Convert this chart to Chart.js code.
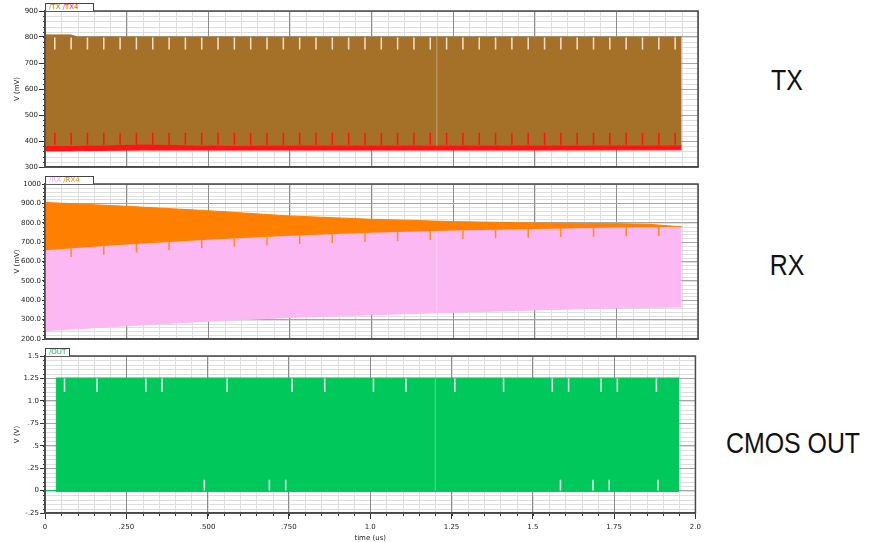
<!DOCTYPE html>
<html>
<head>
<meta charset="utf-8">
<script src="https://cdn.jsdelivr.net/npm/chart.js@4.4.0/dist/chart.umd.min.js"></script>
<style>
body{margin:0;background:#fff;width:879px;height:542px;position:relative;overflow:hidden;font-family:'DejaVu Sans',sans-serif}
canvas{position:absolute;left:0}
.tab{position:absolute;left:45px;height:7px;border:1px solid #444;border-bottom:none;background:#fff;font-size:7px;line-height:7px;padding:0 3px;white-space:nowrap}
.side{position:absolute;font-family:'Liberation Sans',Arial,sans-serif;font-size:30px;color:#111;transform:translate(-50%,-50%) scaleX(0.83);white-space:nowrap}
</style>
</head>
<body>
<canvas id="txChart" width="705" height="174" style="top:0"></canvas>
<canvas id="rxChart" width="705" height="172" style="top:174px"></canvas>
<canvas id="outChart" width="705" height="196" style="top:346px"></canvas>

<div class="tab" style="top:3px;width:41px"><span style="color:#a57128">/TX</span> <span style="color:#ff2020">/TX4</span></div>
<div class="tab" style="top:176px;width:41px"><span style="color:#f7a8ee">/RX</span> <span style="color:#ff8000">/RX4</span></div>
<div class="tab" style="top:348px;width:17px"><span style="color:#00c060">/OUT</span></div>

<div class="side" style="left:787px;top:80px">TX</div>
<div class="side" style="left:787px;top:265px">RX</div>
<div class="side" style="left:793px;top:443px">CMOS OUT</div>

<script>
// 공통 축 눈금
const xTickLabels = ['0', '.250', '.500', '.750', '1.0', '1.25', '1.5', '1.75', '2.0'];
const txTickLabels = ['300', '400', '500', '600', '700', '800', '900'];
const rxTickLabels = ['200.0', '300.0', '400.0', '500.0', '600.0', '700.0', '800.0', '900.0', '1000'];
const outTickLabels = ['-.25', '0', '.25', '.5', '.75', '1.0', '1.25', '1.5'];

// TX 포락선 (mV)
const txTime   = [0, 0.08, 0.1, 0.3, 0.55, 0.75, 1.0, 1.5, 1.95];
const txTop    = [808, 808, 800, 800, 800, 800, 800, 800, 800];
const txMid    = [381, 381, 382, 387, 382, 383, 383, 383, 383];
const txLow    = [362, 362, 363, 365, 365, 365, 365, 365, 366];
const txPulseTime = [0.03, 0.08, 0.13, 0.18, 0.23, 0.28, 0.33, 0.38, 0.43, 0.48, 0.53, 0.58, 0.63,
    0.68, 0.73, 0.78, 0.83, 0.88, 0.93, 0.98, 1.03, 1.08, 1.13, 1.18, 1.23, 1.28, 1.33, 1.38,
    1.43, 1.48, 1.53, 1.58, 1.63, 1.68, 1.73, 1.78, 1.83, 1.88, 1.93];

// RX 포락선 (mV)
const rxTime  = [0, 0.25, 0.5, 0.75, 1.0, 1.25, 1.5, 1.75, 1.85, 1.95];
const rx4Top  = [905, 885, 862, 835, 818, 806, 799, 795, 792, 779];
const rxTop   = [658, 688, 712, 733, 748, 760, 768, 775, 777, 778];
const rxLow   = [243, 268, 292, 311, 325, 338, 350, 360, 363, 365];
const rxSpikeTime = [0.08, 0.18, 0.28, 0.38, 0.48, 0.58, 0.68, 0.78, 0.88, 0.98, 1.08, 1.18,
    1.28, 1.38, 1.48, 1.58, 1.68, 1.78, 1.88];
const rxSpikeTop = [668, 680, 692, 703, 713, 722, 729, 735, 741, 746, 751, 756, 761, 765, 768, 771, 773, 775, 777];
const rxSpikeLow = [623, 635, 647, 658, 668, 677, 684, 690, 696, 701, 706, 711, 716, 720, 723, 726, 728, 730, 732];

// CMOS OUT 포락선 (V)
const outTime = [0, 0.034, 0.035, 1.95];
const outTop  = [0, 0, 1.255, 1.255];
const outLow  = [0, 0, -0.01, -0.01];
const outTopGapTime = [0.06, 0.16, 0.31, 0.36, 0.56, 0.76, 0.86, 1.01, 1.11, 1.26, 1.41, 1.56, 1.61, 1.71, 1.76, 1.88];
const outLowGapTime = [0.49, 0.69, 0.74, 1.585, 1.685, 1.735, 1.885];

const cursorTime = 1.2;

function pts(xs, ys) {
    return xs.map((x, i) => ({ x: x, y: ys[i] }));
}

// 세로 스파이크: 각 시점마다 선분 하나, null로 끊기
function spikePts(xs, lo, hi) {
    const out = [];
    xs.forEach((x, i) => {
        const a = Array.isArray(lo) ? lo[i] : lo;
        const b = Array.isArray(hi) ? hi[i] : hi;
        out.push({ x: x, y: a }, { x: x, y: b }, { x: x, y: null });
    });
    return out;
}

function band(data, color, fill) {
    return { data: data, borderColor: color, backgroundColor: color, borderWidth: 1, fill: fill, order: 0 };
}

function spike(data, color, width) {
    return { data: data, borderColor: color, borderWidth: width || 1.5, fill: false, spanGaps: false, order: -1 };
}

// 보조 격자 + 외곽 프레임
const minorGrid = {
    id: 'minorGrid',
    beforeDraw(chart, args, opts) {
        const { ctx, chartArea: a, scales: { x, y } } = chart;
        ctx.save();
        ctx.strokeStyle = '#dedede';
        ctx.lineWidth = 1;
        ctx.beginPath();
        for (let v = x.min; v <= x.max + 1e-9; v += 0.05) {
            const px = Math.round(x.getPixelForValue(v)) + 0.5;
            ctx.moveTo(px, a.top); ctx.lineTo(px, a.bottom);
        }
        for (let v = y.min; v <= y.max + 1e-9; v += opts.yStep) {
            const py = Math.round(y.getPixelForValue(v)) + 0.5;
            ctx.moveTo(a.left, py); ctx.lineTo(a.right, py);
        }
        ctx.stroke();
        // 작은 눈금
        ctx.strokeStyle = '#333';
        ctx.beginPath();
        for (let v = y.min; v <= y.max + 1e-9; v += opts.yStep) {
            const py = Math.round(y.getPixelForValue(v)) + 0.5;
            ctx.moveTo(a.left - 2, py); ctx.lineTo(a.left, py);
        }
        if (opts.xTicks) {
            for (let v = x.min; v <= x.max + 1e-9; v += 0.05) {
                const px = Math.round(x.getPixelForValue(v)) + 0.5;
                ctx.moveTo(px, a.bottom); ctx.lineTo(px, a.bottom + 3);
            }
        }
        ctx.stroke();
        ctx.restore();
    },
    afterDraw(chart) {
        const { ctx, chartArea: a } = chart;
        ctx.save();
        ctx.strokeStyle = '#4a4a4a';
        ctx.lineWidth = 1.5;
        ctx.strokeRect(a.left, a.top, a.right - a.left, a.bottom - a.top);
        ctx.restore();
    }
};

function buildChart(id, datasets, cfg) {
    const tickFont = { family: 'DejaVu Sans', size: 7 };
    return new Chart(document.getElementById(id), {
        type: 'line',
        data: { datasets: datasets },
        options: {
            responsive: false,
            animation: false,
            events: [],
            parsing: true,
            layout: { padding: { top: cfg.padTop, right: 7, bottom: cfg.padBottom, left: 0 } },
            elements: { point: { radius: 0 }, line: { tension: 0 } },
            plugins: {
                legend: { display: false },
                tooltip: { enabled: false },
                minorGrid: { yStep: cfg.yMinor, xTicks: cfg.showX }
            },
            scales: {
                x: {
                    type: 'linear',
                    min: 0, max: 2,
                    ticks: {
                        display: cfg.showX,
                        stepSize: 0.25,
                        autoSkip: false,
                        maxRotation: 0,
                        padding: 4,
                        color: '#222',
                        font: tickFont,
                        callback: (v, i) => xTickLabels[i]
                    },
                    grid: { color: '#8c8c8c', tickColor: '#333', drawTicks: cfg.showX, tickLength: 6 },
                    border: { color: '#4a4a4a', width: 1.5 },
                    title: {
                        display: cfg.showX,
                        text: 'time (us)',
                        color: '#222',
                        font: tickFont,
                        padding: { top: 0, bottom: 0 }
                    },
                    afterFit: (s) => { s.height = cfg.showX ? 29 : 0; }
                },
                y: {
                    min: cfg.yMin, max: cfg.yMax,
                    ticks: {
                        stepSize: cfg.yStep,
                        autoSkip: false,
                        padding: 1,
                        color: '#222',
                        font: tickFont,
                        callback: (v, i) => cfg.yLabels[i]
                    },
                    grid: { color: '#a6a6a6', tickColor: '#333', tickLength: cfg.tickLen },
                    border: { color: '#4a4a4a', width: 1.5 },
                    title: {
                        display: true,
                        text: cfg.yTitle,
                        color: '#222',
                        font: tickFont,
                        padding: { top: 13, bottom: 0 }
                    },
                    afterFit: (s) => { s.width = 45; }
                }
            }
        },
        plugins: [minorGrid]
    });
}

// TX
buildChart('txChart', [
    band(pts(txTime, txTop), '#a57128', '+1'),
    band(pts(txTime, txMid), '#ff1414', '+1'),
    band(pts(txTime, txLow), '#ff1414', false),
    spike(spikePts(txPulseTime, 752, 798), '#f2e4cc'),
    spike(spikePts(txPulseTime, 386, 432), '#ff1414'),
    spike(spikePts([cursorTime], 382, 800), 'rgba(255,255,255,0.35)', 1)
], { padTop: 11, padBottom: 7, yMin: 300, yMax: 900, yStep: 100, yMinor: 20,
     yLabels: txTickLabels, yTitle: 'V (mV)', tickLen: 6, showX: false });

// RX
buildChart('rxChart', [
    band(pts(rxTime, rx4Top), '#ff8000', '+1'),
    band(pts(rxTime, rxTop), '#fcb8f2', '+1'),
    band(pts(rxTime, rxLow), '#fcb8f2', false),
    spike(spikePts(rxSpikeTime, rxSpikeLow, rxSpikeTop), '#ff8c1a'),
    spike(spikePts([cursorTime], 340, 756), 'rgba(255,255,255,0.4)', 1)
], { padTop: 10, padBottom: 7, yMin: 200, yMax: 1000, yStep: 100, yMinor: 20,
     yLabels: rxTickLabels, yTitle: 'V (mV)', tickLen: 3, showX: false });

// CMOS OUT
buildChart('outChart', [
    band(pts(outTime, outTop), '#00c85a', '+1'),
    band(pts(outTime, outLow), '#00c85a', false),
    spike(spikePts(outTopGapTime, 1.1, 1.25), '#e8fff0'),
    spike(spikePts(outLowGapTime, 0.0, 0.12), '#e8fff0'),
    spike(spikePts([cursorTime], 0, 1.25), 'rgba(255,255,255,0.35)', 1)
], { padTop: 10, padBottom: 0, yMin: -0.25, yMax: 1.5, yStep: 0.25, yMinor: 0.05,
     yLabels: outTickLabels, yTitle: 'V (V)', tickLen: 5, showX: true });
</script>
</body>
</html>
